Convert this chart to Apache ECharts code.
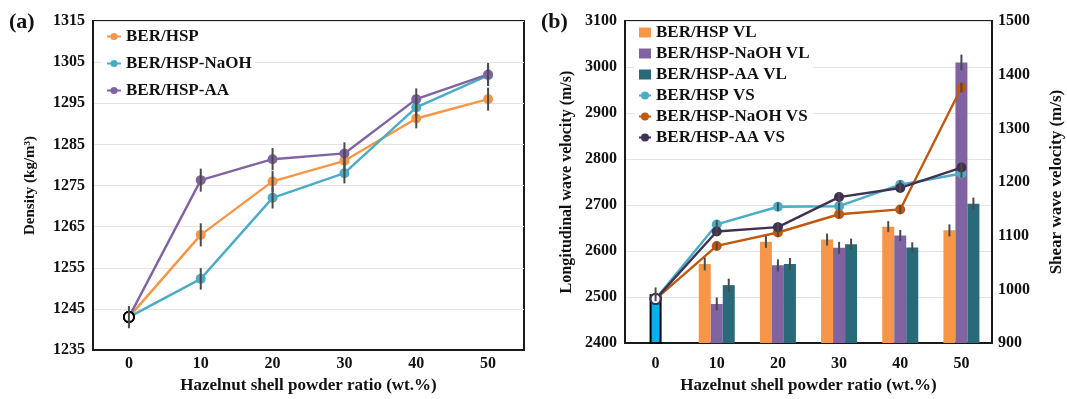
<!DOCTYPE html>
<html>
<head>
<meta charset="utf-8">
<script src="https://cdn.jsdelivr.net/npm/echarts@6/dist/echarts.min.js"></script>
<style>
  html, body { margin: 0; padding: 0; background: #fff; }
  #chart { width: 1067px; height: 399px; }
</style>
</head>
<body>
<div id="chart"></div>
<script>
// x categories shared by both panels
const ratios = ['0', '10', '20', '30', '40', '50']

// (a) density, kg/m3
const densityHSP = [1243, 1263, 1276, 1281, 1291.3, 1296]
const densityNaOH = [1243, 1252.3, 1272, 1278, 1294, 1301.8]
const densityAA = [1243, 1276.3, 1281.4, 1282.8, 1296, 1302]
const densityErrHSP = [2.7, 2.8, 2.5, 2.5, 2.4, 2.8]
const densityErrNaOH = [2.7, 2.6, 2.6, 2.5, 2.2, 2.5]
const densityErrAA = [2.7, 2.8, 2.7, 2.7, 2.6, 2.8]

// (b) longitudinal wave velocity (bars, left axis), m/s
const vlHSP = [null, 2572, 2620, 2625, 2653, 2645]
const vlNaOH = [2506, 2485, 2569, 2607, 2634, 3010]
const vlAA = [null, 2526, 2572, 2615, 2608, 2703]
const vlErrHSP = [0, 14, 13, 13, 12, 13]
const vlErrNaOH = [15, 14, 13, 13, 12, 17]
const vlErrAA = [0, 14, 13, 12, 11, 13]

// (b) shear wave velocity (lines, right axis), m/s
const vsHSP = [982, 1121, 1154, 1155, 1195, 1216]
const vsNaOH = [982, 1081, 1106, 1140, 1149, 1376]
const vsAA = [982, 1108, 1116, 1172, 1189, 1227]
const vsErrHSP = [0, 8, 8, 7, 8, 8]
const vsErrNaOH = [0, 8, 8, 7, 8, 9]
const vsErrAA = [0, 8, 9, 8, 8, 8]

const FONT = 'Liberation Serif'
const txt = (size) => ({ fontFamily: FONT, fontWeight: 'bold', fontSize: size, color: '#111' })
const frameLine = { show: true, onZero: false, lineStyle: { color: '#1a1a1a', width: 2 } }

function errorBars(values, errs, xAxisIndex, yAxisIndex, offset, skipFirst) {
  const data = []
  values.forEach((v, i) => {
    if (v == null || (skipFirst && i === 0)) return
    data.push([i, v - errs[i], v + errs[i]])
  })
  return {
    type: 'custom',
    xAxisIndex,
    yAxisIndex,
    silent: true,
    z: 6,
    encode: { x: 0, y: [1, 2] },
    data,
    renderItem: (params, api) => {
      const lo = api.coord([api.value(0), api.value(1)])
      const hi = api.coord([api.value(0), api.value(2)])
      return {
        type: 'line',
        shape: { x1: lo[0] + offset, y1: lo[1], x2: hi[0] + offset, y2: hi[1] },
        style: { stroke: '#4a4a4a', lineWidth: 2 },
      }
    },
  }
}

function lineSeries(name, values, color, xAxisIndex, yAxisIndex, startBorder) {
  return {
    name,
    type: 'line',
    xAxisIndex,
    yAxisIndex,
    symbol: 'circle',
    symbolSize: 10,
    z: 4,
    lineStyle: { color, width: 2.4 },
    itemStyle: { color },
    data: values.map((v, i) => i === 0
      ? { value: v, itemStyle: { color: '#fff', borderColor: startBorder, borderWidth: 2 } }
      : v),
  }
}

function barSeries(name, values, color) {
  return {
    name,
    type: 'bar',
    xAxisIndex: 1,
    yAxisIndex: 1,
    barWidth: 12,
    barGap: '0%',
    itemStyle: { color },
    data: values.map((v, i) => (i === 0 && v != null)
      ? { value: v, itemStyle: { color: '#00B0F0', borderColor: '#000', borderWidth: 2 } }
      : v),
  }
}

const chart = echarts.init(document.getElementById('chart'), null, { renderer: 'canvas' })

chart.setOption({
  animation: false,
  title: [
    { text: '(a)', left: 9, top: 11, padding: 0, textStyle: txt(22) },
    { text: '(b)', left: 541, top: 11, padding: 0, textStyle: txt(22) },
  ],
  legend: [
    {
      orient: 'vertical',
      left: 102,
      top: 28,
      itemWidth: 14,
      itemHeight: 9,
      itemGap: 10,
      padding: [0, 4],
      backgroundColor: '#fff',
      textStyle: txt(17),
      data: ['BER/HSP', 'BER/HSP-NaOH', 'BER/HSP-AA'],
    },
    {
      orient: 'vertical',
      left: 634,
      top: 24,
      itemWidth: 12,
      itemHeight: 10,
      itemGap: 4,
      padding: [0, 4],
      backgroundColor: '#fff',
      textStyle: txt(17),
      data: [
        { name: 'BER/HSP VL', icon: 'rect' },
        { name: 'BER/HSP-NaOH VL', icon: 'rect' },
        { name: 'BER/HSP-AA VL', icon: 'rect' },
        'BER/HSP VS',
        'BER/HSP-NaOH VS',
        'BER/HSP-AA VS',
      ],
    },
  ],
  grid: [
    { left: 93, top: 21, width: 431, height: 329, show: true, borderColor: '#1a1a1a', borderWidth: 2 },
    { left: 625, top: 21, width: 367, height: 329, show: true, borderColor: '#1a1a1a', borderWidth: 2 },
  ],
  xAxis: [
    {
      gridIndex: 0,
      type: 'category',
      data: ratios,
      axisLine: frameLine,
      axisTick: { show: false },
      axisLabel: { ...txt(16), margin: 6 },
      name: 'Hazelnut shell powder ratio (wt.%)',
      nameLocation: 'middle',
      nameGap: 24,
      nameTextStyle: txt(17),
    },
    {
      gridIndex: 1,
      type: 'category',
      data: ratios,
      axisLine: frameLine,
      axisTick: { show: false },
      axisLabel: { ...txt(16), margin: 13 },
      name: 'Hazelnut shell powder ratio (wt.%)',
      nameLocation: 'middle',
      nameGap: 30,
      nameTextStyle: txt(17),
    },
  ],
  yAxis: [
    {
      gridIndex: 0,
      type: 'value',
      min: 1235,
      max: 1315,
      interval: 5,
      axisLine: frameLine,
      axisTick: { show: false },
      axisLabel: { ...txt(16), margin: 8, formatter: (v) => ((v - 1235) % 10 === 0 ? String(v) : '') },
      splitLine: { lineStyle: { color: ['#e4e4e4', 'rgba(0,0,0,0)'], width: 1 } },
      name: 'Density (kg/m³)',
      nameLocation: 'middle',
      nameGap: 55,
      nameRotate: 90,
      nameTextStyle: txt(15),
    },
    {
      gridIndex: 1,
      type: 'value',
      min: 2400,
      max: 3100,
      interval: 100,
      axisLine: frameLine,
      axisTick: { show: false },
      axisLabel: { ...txt(16), margin: 8, formatter: (v) => String(v) },
      splitLine: { lineStyle: { color: '#e4e4e4', width: 1 } },
      name: 'Longitudinal wave velocity (m/s)',
      nameLocation: 'middle',
      nameGap: 50,
      nameRotate: 90,
      nameTextStyle: txt(16),
    },
    {
      gridIndex: 1,
      type: 'value',
      position: 'right',
      min: 900,
      max: 1500,
      interval: 100,
      axisLine: frameLine,
      axisTick: { show: false },
      axisLabel: { ...txt(16), margin: 6, formatter: (v) => String(v) },
      splitLine: { show: false },
      name: 'Shear wave velocity (m/s)',
      nameLocation: 'middle',
      nameGap: 56,
      nameRotate: 90,
      nameTextStyle: txt(17),
    },
  ],
  series: [
    // (a)
    lineSeries('BER/HSP', densityHSP, '#F79646', 0, 0, '#000'),
    lineSeries('BER/HSP-NaOH', densityNaOH, '#4BACC6', 0, 0, '#000'),
    lineSeries('BER/HSP-AA', densityAA, '#8064A2', 0, 0, '#000'),
    errorBars(densityHSP, densityErrHSP, 0, 0, 0, true),
    errorBars(densityNaOH, densityErrNaOH, 0, 0, 0, true),
    errorBars(densityAA, densityErrAA, 0, 0, 0, false),
    // (b) bars
    barSeries('BER/HSP VL', vlHSP, '#F79646'),
    barSeries('BER/HSP-NaOH VL', vlNaOH, '#8064A2'),
    barSeries('BER/HSP-AA VL', vlAA, '#28697A'),
    errorBars(vlHSP, vlErrHSP, 1, 1, -12, false),
    errorBars(vlNaOH, vlErrNaOH, 1, 1, 0, false),
    errorBars(vlAA, vlErrAA, 1, 1, 12, false),
    // (b) lines
    lineSeries('BER/HSP VS', vsHSP, '#4BACC6', 1, 2, '#403152'),
    lineSeries('BER/HSP-NaOH VS', vsNaOH, '#C0580F', 1, 2, '#403152'),
    lineSeries('BER/HSP-AA VS', vsAA, '#403152', 1, 2, '#403152'),
    errorBars(vsHSP, vsErrHSP, 1, 2, 0, true),
    errorBars(vsNaOH, vsErrNaOH, 1, 2, 0, true),
    errorBars(vsAA, vsErrAA, 1, 2, 0, true),
  ],
})
</script>
</body>
</html>
